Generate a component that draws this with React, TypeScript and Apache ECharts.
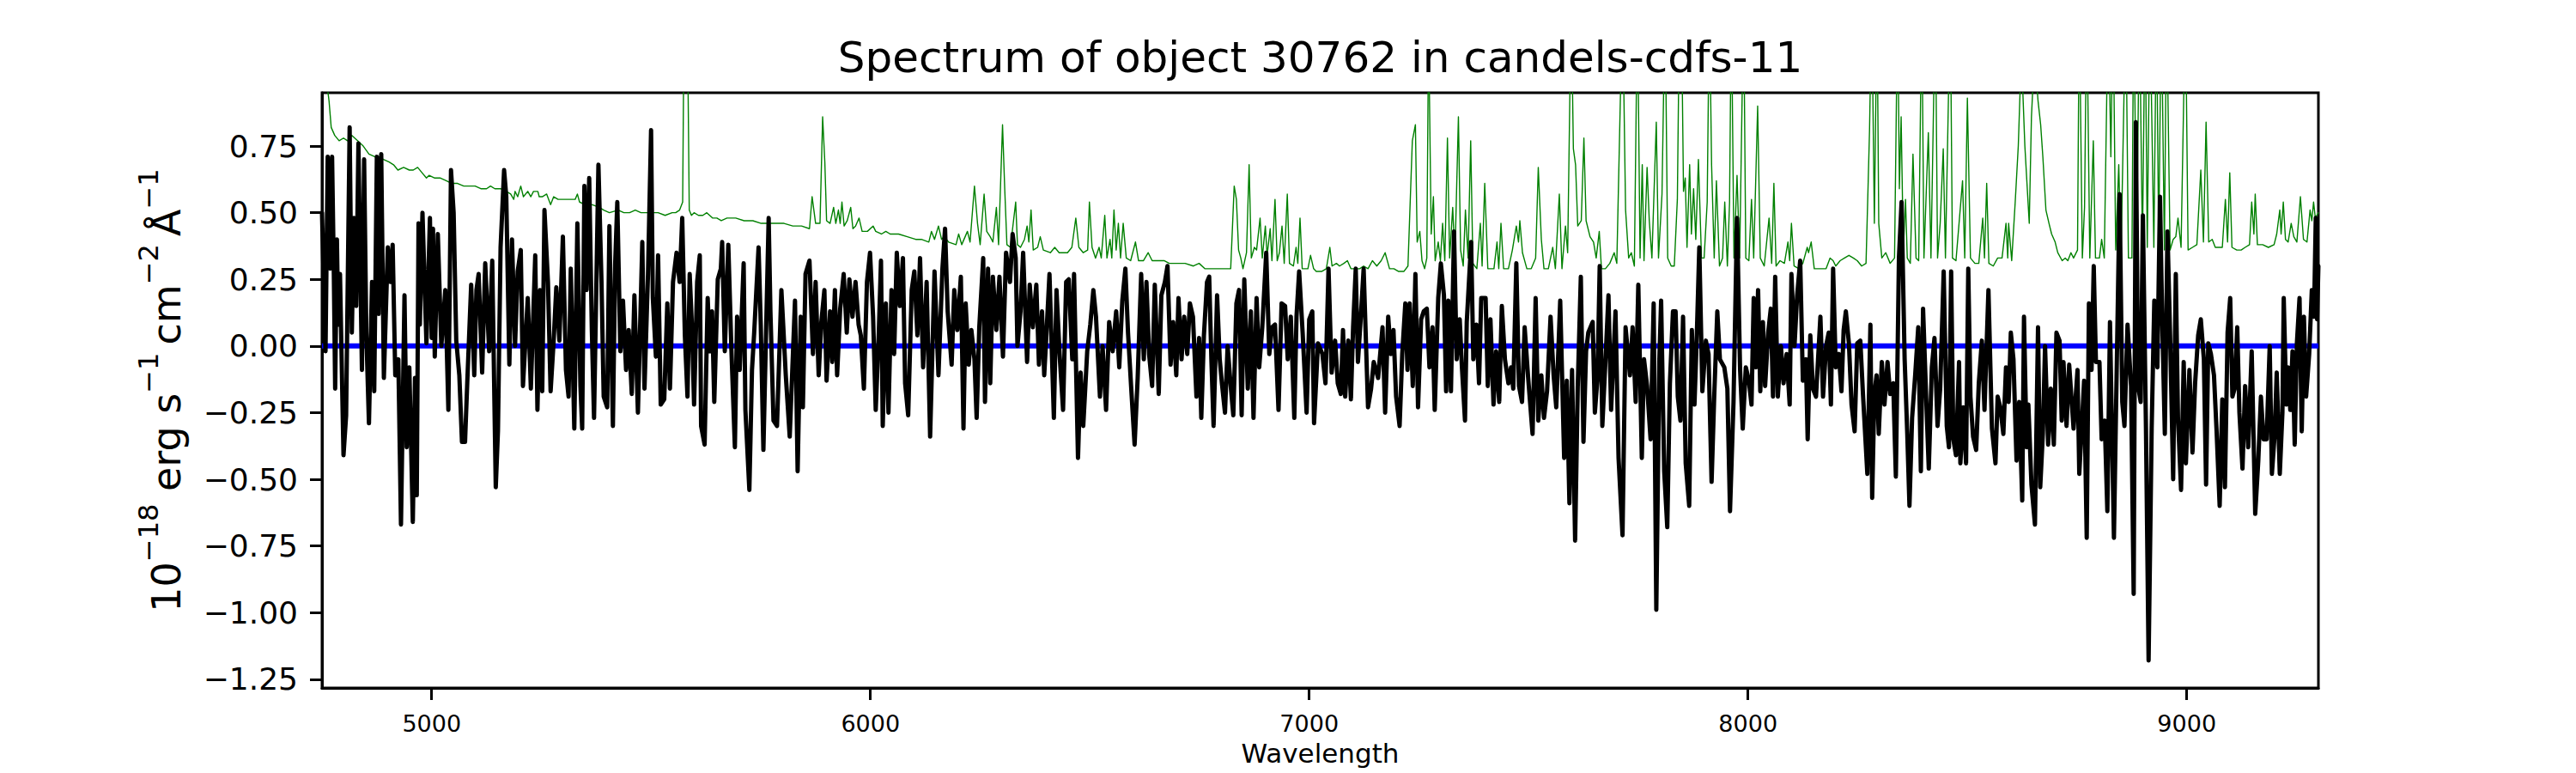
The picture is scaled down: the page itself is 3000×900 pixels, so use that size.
import React, { useEffect, useRef } from "react";
import * as echarts from "echarts";

const FONT = "DejaVu Sans";
const TITLE = "Spectrum of object 30762 in candels-cdfs-11";
const X_NAME = "Wavelength";
const X_MIN = 4750;
const X_MAX = 9300;
const Y_MIN = -1.283;
const Y_MAX = 0.95;
const xTicks = [5000, 6000, 7000, 8000, 9000];
const yTicks = [-1.25, -1.0, -0.75, -0.5, -0.25, 0, 0.25, 0.5, 0.75];

// Black: flux spectrum [wavelength, flux]
const black1 = [[4750,0.50],[4758,-0.02],[4763,0.71],[4769,0.29],[4773,0.71],[4777,0.27],[4780,-0.16],[4784,0.40],[4787,0.08],[4791,0.27],[4799,-0.41],[4805,-0.26],[4813,0.82],[4818,0.05],[4823,0.48],[4828,0.15],[4833,0.76],[4841,-0.09],[4846,0.70],[4851,0.05],[4857,-0.29],[4864,0.24],[4869,-0.17],[4875,0.71],[4879,0.12],[4885,0.72],[4891,-0.12],[4900,0.37],[4906,0.24],[4911,0.38],[4917,-0.11],[4924,-0.05],[4930,-0.67],[4938,0.19],[4943,-0.38],[4949,-0.08],[4957,-0.66],[4962,-0.12],[4966,-0.56],[4970,0.46],[4973,0.08],[4979,0.50],[4988,0.01],[4996,0.48],[5000,0.03],[5003,0.44],[5007,-0.04],[5014,0.42],[5022,0.00],[5031,0.21],[5038,-0.24],[5044,0.66],[5050,0.50],[5056,0.02],[5063,-0.11],[5069,-0.36],[5076,-0.36],[5081,-0.14],[5090,0.23],[5097,-0.11],[5102,0.21],[5107,0.27],[5115,-0.10],[5122,0.31],[5131,-0.02],[5138,0.32],[5146,-0.53],[5151,-0.32],[5157,0.37],[5165,0.66],[5170,0.56],[5177,-0.07],[5183,0.40],[5190,0.00],[5196,0.28],[5203,0.36],[5208,-0.15],[5219,0.18],[5226,-0.16],[5236,0.34],[5241,-0.24],[5247,0.21],[5252,-0.17],[5257,0.51],[5265,0.24],[5271,-0.17],[5278,0.02],[5284,0.22],[5291,0.02],[5299,0.41],[5306,-0.09],[5312,-0.19],[5317,0.29],[5325,-0.31],[5332,0.46],[5339,-0.15],[5343,-0.31],[5348,0.60],[5353,0.21],[5359,0.63],[5365,0.06],[5370,-0.27],[5380,0.68],[5387,0.24],[5392,-0.19],[5400,-0.23],[5405,0.45],[5413,-0.30],[5418,0.30],[5423,0.54],[5430,-0.02],[5436,0.17],[5443,-0.09],[5449,0.06],[5456,-0.18],[5462,0.19],[5470,-0.25],[5480,0.39],[5485,-0.16],[5493,0.27],[5500,0.81],[5504,0.18],[5511,-0.04],[5516,0.34],[5522,-0.22],[5530,-0.20],[5537,0.16],[5543,-0.16],[5550,0.24],[5558,0.35]];
const black2 = [[5565,0.24],[5571,0.48],[5577,0.04],[5583,-0.19],[5588,0.27],[5593,0.08],[5598,-0.22],[5605,0.24],[5611,0.34],[5614,-0.30],[5622,-0.37],[5629,0.18],[5634,-0.02],[5639,0.13],[5644,-0.21],[5652,0.25],[5659,0.29],[5662,0.39],[5668,-0.02],[5676,0.38],[5683,-0.01],[5691,-0.38],[5696,0.11],[5702,-0.09],[5711,0.31],[5715,-0.24],[5724,-0.54],[5730,-0.09],[5735,0.05],[5745,0.37],[5750,0.08],[5756,-0.39],[5768,0.48],[5772,0.13],[5779,-0.28],[5787,-0.30],[5797,0.21],[5807,-0.11],[5816,-0.34],[5828,0.17],[5834,-0.47],[5841,0.11],[5846,-0.23],[5852,0.27],[5861,0.32],[5869,-0.03],[5875,0.24],[5882,-0.11],[5888,0.09],[5895,0.21],[5900,-0.13],[5908,0.13],[5913,-0.06],[5919,0.21],[5924,-0.11],[5931,0.14],[5939,0.27],[5946,0.05],[5952,0.25],[5959,0.11],[5966,0.24],[5973,0.08],[5978,0.04],[5985,-0.16],[5992,0.24],[5999,0.35],[6006,0.11],[6012,-0.24],[6019,0.05],[6024,0.32],[6028,-0.30],[6035,0.16],[6041,-0.25],[6048,0.21],[6054,-0.03],[6060,0.35],[6067,0.15],[6074,0.33],[6079,-0.14],[6086,-0.26],[6094,0.21],[6100,0.28],[6107,0.04],[6113,0.33],[6120,-0.08],[6128,0.24],[6136,-0.34],[6146,0.28],[6155,-0.11],[6164,0.29],[6170,0.44],[6176,0.13],[6185,-0.07],[6191,0.21],[6198,0.06],[6206,0.26],[6212,-0.31],[6217,0.16],[6224,-0.07],[6230,0.06],[6237,-0.05],[6242,-0.27],[6248,0.07],[6257,0.33],[6261,-0.21],[6268,0.29],[6273,-0.14],[6279,0.26],[6287,0.06],[6294,0.26],[6302,-0.04]];
const black3 = [[6309,0.35],[6318,0.24],[6324,0.42],[6331,0.33],[6335,0.00],[6342,0.13],[6348,0.35],[6357,-0.06],[6363,0.23],[6370,0.07],[6378,0.23],[6384,-0.07],[6391,0.13],[6396,-0.11],[6400,0.01],[6408,0.27],[6418,-0.27],[6424,0.21],[6431,-0.03],[6439,-0.24],[6446,0.24],[6452,0.25],[6460,-0.05],[6464,0.27],[6473,-0.42],[6479,-0.10],[6485,-0.30],[6494,-0.02],[6501,0.08],[6508,0.21],[6514,0.11],[6523,-0.19],[6529,0.00],[6537,-0.24],[6544,0.09],[6552,-0.02],[6560,0.13],[6567,-0.08],[6574,0.17],[6581,0.29],[6587,0.05],[6594,-0.15],[6602,-0.37],[6609,-0.12],[6617,0.27],[6623,-0.05],[6629,0.24],[6635,-0.03],[6642,-0.15],[6648,0.23],[6657,-0.18],[6663,0.19],[6671,0.24],[6677,0.30],[6684,-0.07],[6690,0.09],[6697,-0.11],[6702,0.18],[6709,-0.05],[6715,0.11],[6722,-0.03],[6728,0.16],[6735,0.11],[6743,-0.19],[6749,0.03],[6754,-0.27],[6760,0.04],[6767,0.24],[6772,0.26],[6777,-0.05],[6782,-0.30],[6790,0.19],[6796,-0.05],[6801,-0.14],[6808,-0.25],[6814,0.00],[6821,-0.15],[6827,-0.26],[6834,0.16],[6840,0.21],[6846,-0.26],[6852,0.25],[6860,-0.16],[6867,0.13],[6873,-0.27],[6880,0.18],[6886,-0.08],[6893,0.07],[6902,0.35],[6909,-0.03],[6915,0.07],[6922,0.08],[6930,-0.24],[6937,0.16],[6945,0.15],[6951,-0.05],[6958,0.11],[6966,-0.27],[6971,0.11],[6977,0.28],[6985,0.05],[6994,-0.25],[7000,0.10],[7007,0.13],[7011,-0.29],[7020,0.01],[7030,-0.03],[7037,-0.14],[7044,0.29],[7051,-0.10],[7059,0.02],[7065,-0.14]];
const black4 = [[7072,-0.18],[7077,0.06],[7082,-0.19],[7089,0.02],[7095,-0.20],[7100,0.07],[7106,0.29],[7111,-0.06],[7118,0.12],[7124,0.29],[7134,-0.23],[7141,-0.16],[7147,-0.06],[7157,-0.12],[7167,0.07],[7173,-0.25],[7180,0.11],[7186,-0.03],[7192,0.06],[7198,-0.19],[7206,-0.30],[7212,-0.03],[7219,0.16],[7224,-0.09],[7229,0.16],[7236,-0.15],[7242,0.27],[7248,-0.23],[7255,0.10],[7261,0.13],[7268,0.14],[7274,-0.08],[7281,0.07],[7286,-0.24],[7294,0.18],[7300,0.31],[7307,0.19],[7312,-0.17],[7317,0.17],[7323,-0.17],[7330,0.43],[7336,-0.05],[7343,0.10],[7348,-0.08],[7355,-0.28],[7359,0.09],[7369,0.39],[7374,-0.05],[7381,0.08],[7387,-0.14],[7392,0.18],[7402,0.18],[7407,-0.15],[7413,0.10],[7420,-0.22],[7426,-0.02],[7433,-0.21],[7439,0.15],[7446,-0.05],[7454,-0.14],[7460,-0.08],[7465,-0.16],[7472,0.31],[7478,-0.15],[7485,-0.21],[7491,0.07],[7499,-0.12],[7509,-0.33],[7516,0.18],[7522,-0.28],[7529,-0.11],[7535,-0.27],[7542,-0.17],[7550,0.11],[7557,-0.11],[7563,-0.23],[7572,0.17],[7581,-0.42],[7587,-0.13],[7593,-0.59],[7599,-0.09],[7606,-0.73],[7612,-0.15],[7619,0.26],[7625,-0.36],[7631,-0.02],[7636,0.05],[7646,0.09],[7651,-0.25],[7657,-0.12],[7662,0.30],[7668,-0.30],[7675,-0.06],[7682,0.19],[7688,-0.24],[7698,0.13],[7705,-0.42],[7714,-0.71],[7721,0.07],[7731,-0.11],[7737,0.07],[7744,-0.21],[7750,0.23],[7758,-0.42],[7763,-0.05],[7770,-0.15],[7778,-0.35],[7785,0.16],[7791,-0.99],[7798,-0.05],[7802,0.17],[7809,-0.47],[7816,-0.68],[7822,-0.14],[7829,0.13]];
const black5 = [[7835,0.13],[7840,-0.19],[7846,-0.28],[7852,0.11],[7858,-0.44],[7866,-0.60],[7872,0.06],[7878,-0.22],[7883,0.02],[7889,0.37],[7896,-0.17],[7904,0.02],[7910,-0.03],[7917,-0.51],[7923,-0.19],[7930,0.13],[7936,-0.05],[7946,-0.08],[7953,-0.16],[7959,-0.62],[7967,-0.21],[7975,0.48],[7982,-0.09],[7988,-0.31],[7995,-0.08],[8002,-0.13],[8008,-0.22],[8013,0.18],[8018,-0.08],[8023,0.21],[8028,-0.17],[8034,0.09],[8039,-0.15],[8046,0.05],[8052,0.14],[8057,-0.19],[8062,0.26],[8068,-0.19],[8075,0.00],[8081,-0.14],[8088,-0.03],[8095,-0.22],[8099,0.27],[8106,0.00],[8112,0.19],[8119,0.32],[8125,-0.13],[8132,-0.05],[8136,-0.35],[8142,0.04],[8148,-0.16],[8155,-0.19],[8165,0.11],[8171,-0.19],[8178,0.00],[8184,0.05],[8189,-0.22],[8194,0.29],[8200,-0.08],[8207,-0.03],[8213,-0.17],[8218,0.06],[8223,0.13],[8230,0.01],[8236,-0.22],[8243,-0.32],[8249,0.01],[8256,0.02],[8262,-0.18],[8272,-0.48],[8279,0.08],[8283,-0.57],[8288,-0.18],[8293,-0.11],[8298,-0.33],[8305,-0.06],[8311,-0.22],[8318,-0.06],[8324,-0.18],[8331,-0.14],[8337,-0.49],[8344,0.33],[8350,0.54],[8357,-0.05],[8363,-0.33],[8368,-0.60],[8374,-0.27],[8381,-0.11],[8388,0.07],[8394,-0.47],[8399,0.14],[8406,-0.19],[8412,-0.46],[8419,-0.08],[8425,0.03],[8432,-0.30],[8438,-0.16],[8446,0.28],[8453,-0.30],[8458,-0.38],[8463,0.28],[8468,-0.35],[8474,-0.41],[8481,-0.06],[8484,-0.44],[8491,-0.23],[8497,-0.44],[8502,0.29],[8507,-0.19],[8513,-0.34],[8520,-0.39],[8526,-0.14],[8533,0.02],[8539,-0.24],[8548,0.21],[8556,-0.31],[8564,-0.44],[8569,-0.19],[8575,-0.23],[8582,-0.33],[8588,-0.08]];
const black6 = [[8594,-0.21],[8599,0.05],[8605,-0.05],[8612,-0.43],[8618,-0.21],[8625,-0.58],[8629,0.11],[8635,-0.38],[8639,-0.22],[8646,-0.52],[8654,-0.67],[8661,0.07],[8666,-0.53],[8672,-0.33],[8677,0.00],[8684,-0.37],[8690,-0.16],[8697,-0.37],[8703,0.05],[8710,0.02],[8715,-0.28],[8719,-0.06],[8726,-0.30],[8732,-0.07],[8742,-0.31],[8751,-0.09],[8755,-0.48],[8762,-0.26],[8766,-0.13],[8772,-0.72],[8777,0.16],[8783,-0.09],[8788,0.30],[8793,-0.06],[8801,-0.06],[8806,-0.35],[8813,-0.28],[8819,-0.62],[8825,0.09],[8834,-0.72],[8840,-0.12],[8847,0.57],[8853,-0.21],[8858,-0.30],[8865,0.08],[8873,-0.15],[8879,-0.93],[8884,0.84],[8889,-0.15],[8895,-0.21],[8900,0.49],[8907,-0.31],[8913,-1.18],[8920,-0.31],[8926,0.17],[8933,-0.08],[8939,0.56],[8944,0.10],[8950,-0.33],[8956,0.43],[8962,0.04],[8969,-0.50],[8975,0.27],[8980,-0.27],[8987,-0.54],[8993,-0.06],[8998,-0.44],[9006,-0.09],[9013,-0.40],[9019,-0.14],[9026,0.04],[9032,0.10],[9039,-0.05],[9044,-0.52],[9049,0.01],[9055,-0.03],[9062,-0.11],[9068,-0.32],[9075,-0.60],[9081,-0.20],[9087,-0.53],[9093,0.05],[9099,0.18],[9104,-0.19],[9109,-0.16],[9115,0.07],[9120,-0.25],[9127,-0.46],[9133,-0.15],[9140,-0.38],[9148,-0.02],[9156,-0.63],[9163,-0.43],[9169,-0.19],[9175,-0.35],[9182,-0.35],[9189,0.00],[9194,-0.48],[9200,-0.34],[9205,-0.10],[9212,-0.48],[9218,-0.25],[9221,0.18],[9227,-0.22],[9231,-0.08],[9236,-0.24],[9241,-0.02],[9246,-0.37],[9251,0.01],[9257,0.18],[9262,-0.32],[9267,0.11],[9272,-0.19],[9279,-0.03],[9285,0.21],[9290,0.11],[9294,0.48],[9297,0.10],[9300,0.30]];

// Green: error / sky spectrum [wavelength, value]
const green1 = [[4750,1.25],[4757,1.02],[4763,0.96],[4766,0.92],[4771,0.82],[4779,0.79],[4789,0.77],[4799,0.78],[4808,0.77],[4818,0.79],[4831,0.77],[4844,0.75],[4857,0.72],[4870,0.71],[4880,0.71],[4890,0.70],[4903,0.69],[4913,0.68],[4923,0.66],[4936,0.67],[4949,0.66],[4958,0.66],[4968,0.67],[4978,0.65],[4988,0.63],[4994,0.64],[5007,0.63],[5020,0.63],[5033,0.62],[5046,0.61],[5059,0.61],[5073,0.60],[5086,0.60],[5099,0.60],[5112,0.59],[5125,0.59],[5134,0.60],[5144,0.59],[5157,0.59],[5170,0.58],[5180,0.57],[5187,0.55],[5190,0.58],[5196,0.56],[5203,0.60],[5209,0.56],[5219,0.58],[5226,0.56],[5232,0.58],[5242,0.58],[5245,0.56],[5252,0.56],[5262,0.57],[5271,0.53],[5278,0.56],[5288,0.55],[5301,0.55],[5314,0.55],[5327,0.55],[5332,0.57],[5337,0.54],[5350,0.53],[5366,0.53],[5382,0.52],[5392,0.51],[5405,0.50],[5425,0.51],[5438,0.50],[5451,0.50],[5464,0.51],[5477,0.50],[5496,0.50],[5516,0.50],[5532,0.49],[5548,0.50]];
const green2 = [[5556,0.50],[5565,0.51],[5572,0.54],[5575,1.2],[5578,1.5],[5583,1.2],[5587,0.51],[5592,0.49],[5598,0.50],[5608,0.49],[5618,0.49],[5627,0.50],[5640,0.48],[5650,0.48],[5660,0.47],[5673,0.48],[5693,0.48],[5712,0.47],[5732,0.47],[5751,0.46],[5768,0.46],[5784,0.46],[5803,0.46],[5823,0.45],[5843,0.45],[5861,0.44],[5867,0.56],[5875,0.46],[5885,0.46],[5891,0.86],[5896,0.69],[5900,0.47],[5908,0.46],[5916,0.52],[5921,0.46],[5927,0.51],[5931,0.46],[5935,0.54],[5940,0.45],[5947,0.47],[5955,0.52],[5960,0.44],[5966,0.45],[5974,0.48],[5981,0.43],[5993,0.43],[6006,0.45],[6012,0.43],[6025,0.42],[6035,0.43],[6045,0.42],[6064,0.42],[6084,0.41],[6103,0.40],[6116,0.40],[6133,0.39],[6139,0.43],[6146,0.40],[6155,0.45],[6162,0.40],[6168,0.41],[6178,0.39],[6195,0.38],[6201,0.42],[6208,0.38],[6221,0.43],[6227,0.39],[6237,0.60],[6244,0.46],[6250,0.38],[6259,0.57],[6265,0.43],[6273,0.41],[6279,0.39],[6287,0.52],[6292,0.38],[6301,0.83]];
const green3 = [[6306,0.59],[6311,0.38],[6319,0.37],[6331,0.54],[6335,0.38],[6342,0.37],[6351,0.40],[6357,0.45],[6361,0.39],[6366,0.51],[6371,0.36],[6381,0.37],[6387,0.41],[6394,0.36],[6410,0.35],[6420,0.37],[6430,0.35],[6449,0.35],[6459,0.37],[6468,0.48],[6475,0.37],[6485,0.35],[6495,0.36],[6499,0.54],[6505,0.37],[6513,0.33],[6521,0.37],[6526,0.33],[6534,0.49],[6539,0.33],[6546,0.40],[6550,0.33],[6555,0.51],[6560,0.36],[6565,0.46],[6570,0.33],[6576,0.46],[6583,0.33],[6593,0.32],[6604,0.39],[6611,0.32],[6622,0.32],[6633,0.35],[6642,0.32],[6658,0.32],[6670,0.32],[6681,0.31],[6697,0.31],[6717,0.31],[6736,0.30],[6749,0.31],[6762,0.29],[6782,0.29],[6801,0.29],[6821,0.29],[6829,0.60],[6834,0.55],[6839,0.36],[6844,0.33],[6849,0.29],[6857,0.35],[6863,0.68],[6868,0.33],[6875,0.37],[6880,0.36],[6888,0.48],[6893,0.33],[6900,0.45],[6904,0.34],[6911,0.44],[6915,0.32],[6922,0.55],[6927,0.32],[6932,0.35],[6938,0.45],[6943,0.31],[6950,0.57],[6955,0.31],[6964,0.30],[6970,0.37],[6974,0.31],[6979,0.48],[6984,0.29],[6997,0.29],[7003,0.34],[7010,0.29],[7016,0.28],[7029,0.28],[7039,0.29],[7047,0.37],[7052,0.30],[7062,0.31]];
const green4 = [[7069,0.30],[7079,0.31],[7087,0.32],[7095,0.29],[7105,0.29],[7115,0.29],[7124,0.30],[7134,0.29],[7144,0.32],[7154,0.30],[7164,0.32],[7173,0.35],[7183,0.29],[7193,0.29],[7203,0.28],[7216,0.28],[7225,0.30],[7235,0.77],[7242,0.83],[7246,0.39],[7252,0.43],[7257,0.32],[7263,0.29],[7268,0.33],[7272,1.2],[7278,0.42],[7283,0.56],[7287,0.32],[7294,0.39],[7299,0.32],[7304,0.46],[7309,0.32],[7315,0.78],[7320,0.33],[7327,0.52],[7332,0.33],[7340,0.86],[7345,0.36],[7351,0.30],[7356,0.51],[7362,0.33],[7368,0.77],[7373,0.31],[7382,0.29],[7390,0.46],[7394,0.30],[7400,0.61],[7407,0.29],[7415,0.29],[7421,0.29],[7428,0.39],[7432,0.29],[7437,0.46],[7443,0.29],[7454,0.29],[7463,0.36],[7472,0.45],[7477,0.39],[7480,0.47],[7486,0.35],[7496,0.29],[7506,0.29],[7516,0.33],[7522,0.67],[7529,0.40],[7535,0.29],[7545,0.29],[7555,0.37],[7561,0.29],[7570,0.57],[7576,0.29],[7584,0.45],[7589,0.35],[7597,1.3],[7602,0.74],[7607,0.68],[7612,0.45],[7620,0.47],[7626,0.78],[7631,0.47],[7640,0.41],[7648,0.39],[7654,0.33],[7661,0.43],[7666,0.29],[7675,0.29],[7685,0.31],[7695,0.35],[7701,0.31],[7714,1.3],[7721,0.51],[7728,0.33],[7734,0.35],[7741,0.30],[7748,1.3],[7754,0.33],[7759,0.68],[7763,0.32],[7770,0.67],[7775,0.47],[7781,0.33],[7791,0.84],[7796,0.33],[7804,0.57],[7811,1.3],[7817,0.33],[7825,0.30]];
const green5 = [[7832,0.30],[7839,0.55],[7844,1.3],[7848,1.3],[7853,0.58],[7857,0.63],[7861,0.37],[7867,0.68],[7871,0.42],[7876,0.59],[7881,0.40],[7887,0.70],[7894,0.33],[7900,0.33],[7907,0.54],[7912,1.3],[7917,0.68],[7923,0.33],[7928,0.62],[7935,0.30],[7942,0.33],[7947,0.54],[7953,0.30],[7958,0.54],[7962,1.3],[7968,0.33],[7975,0.64],[7981,0.33],[7990,1.3],[7995,0.33],[8002,0.32],[8008,0.55],[8013,0.33],[8022,0.90],[8028,0.33],[8037,0.30],[8048,0.48],[8054,0.31],[8059,0.61],[8064,0.30],[8073,0.32],[8083,0.31],[8091,0.39],[8095,0.32],[8099,0.46],[8105,0.30],[8116,0.29],[8125,0.31],[8135,0.37],[8138,0.35],[8144,0.39],[8151,0.29],[8165,0.29],[8178,0.29],[8187,0.33],[8194,0.32],[8200,0.30],[8210,0.32],[8220,0.33],[8230,0.34],[8240,0.33],[8249,0.32],[8259,0.30],[8269,0.31],[8274,0.62],[8277,0.81],[8282,1.3],[8288,0.46],[8294,1.3],[8298,0.46],[8305,0.33],[8314,0.35],[8324,0.31],[8334,0.33],[8341,1.3],[8345,0.59],[8349,0.86],[8354,0.36],[8359,0.55],[8363,0.33],[8370,0.31],[8376,0.72],[8383,0.33],[8389,0.32],[8396,1.3],[8401,0.33],[8411,0.80],[8417,0.33],[8427,1.3],[8432,0.33],[8438,0.46],[8445,0.74],[8450,0.33],[8461,1.3],[8466,0.33],[8474,0.32],[8489,0.62],[8494,0.33],[8500,0.93],[8507,0.33],[8517,0.31],[8526,0.31],[8535,0.48],[8539,0.33],[8544,0.61],[8549,0.31],[8559,0.30],[8569,0.33],[8579,0.33],[8588,0.46]];
const green6 = [[8592,0.33],[8594,0.46],[8601,0.32],[8609,0.54],[8616,0.75],[8623,1.1],[8631,0.75],[8641,0.46],[8646,0.86],[8653,1.1],[8661,0.92],[8667,0.83],[8672,0.71],[8679,0.51],[8686,0.46],[8692,0.42],[8700,0.39],[8706,0.35],[8716,0.32],[8723,0.33],[8729,0.32],[8736,0.35],[8742,0.33],[8751,0.36],[8755,1.3],[8762,0.33],[8767,0.52],[8772,1.3],[8779,0.33],[8787,0.77],[8792,0.33],[8801,0.33],[8806,0.40],[8812,0.33],[8821,1.3],[8827,0.71],[8832,1.3],[8838,0.36],[8845,0.68],[8850,0.33],[8861,1.3],[8867,0.33],[8875,0.33],[8879,1.3],[8886,0.36],[8892,1.3],[8899,0.37],[8905,1.3],[8910,0.37],[8916,1.3],[8925,0.37],[8931,1.3],[8936,0.37],[8942,1.3],[8949,0.36],[8954,1.3],[8962,0.36],[8969,0.40],[8975,0.41],[8980,0.48],[8987,0.37],[8997,1.3],[9003,0.36],[9013,0.37],[9023,0.38],[9032,0.66],[9038,0.39],[9044,0.84],[9050,0.39],[9058,0.40],[9065,0.37],[9075,0.37],[9081,0.37],[9088,0.55],[9093,0.39],[9098,0.65],[9103,0.37],[9114,0.36],[9124,0.36],[9133,0.37],[9143,0.38],[9148,0.54],[9153,0.42],[9156,0.57],[9161,0.38],[9173,0.38],[9186,0.37],[9199,0.38],[9205,0.42],[9212,0.51],[9215,0.42],[9220,0.54],[9225,0.40],[9231,0.39],[9238,0.46],[9244,0.41],[9251,0.39],[9259,0.56],[9266,0.40],[9274,0.39],[9281,0.51],[9285,0.47],[9289,0.54],[9293,0.48],[9300,0.50]];

// Blue: zero level
const zeroLevel = 0;

const W = 3000;
const H = 900;
const GRID = { left: 375, right: 300, top: 108, bottom: 99 };

function fmtY(v: number): string {
  const s = Math.abs(v).toFixed(2);
  return v < -1e-9 ? "\u2212" + s : s;
}

export default function App() {
  const ref = useRef<HTMLDivElement>(null);

  useEffect(() => {
    document.body.style.margin = "0";
    if (!ref.current) return;
    const chart = echarts.init(ref.current, null, { renderer: "svg" });
    const blackData = [...black1, ...black2, ...black3, ...black4, ...black5, ...black6];
    const greenData = [...green1, ...green2, ...green3, ...green4, ...green5, ...green6];
    const plotLeft = GRID.left;
    const plotRight = W - GRID.right;
    const cx = (plotLeft + plotRight) / 2;

    chart.setOption({
      animation: false,
      backgroundColor: "#ffffff",
      grid: {
        left: GRID.left,
        right: GRID.right,
        top: GRID.top,
        bottom: GRID.bottom,
        show: true,
        borderColor: "#000000",
        borderWidth: 3,
        backgroundColor: "transparent",
        containLabel: false,
      },
      graphic: [
        {
          type: "text",
          x: cx,
          y: 67,
          style: {
            text: TITLE,
            fontFamily: FONT,
            fontSize: 50,
            fill: "#000000",
            align: "center",
            verticalAlign: "middle",
          },
        },
      ],
      xAxis: {
        type: "value",
        min: X_MIN,
        max: X_MAX,
        name: X_NAME,
        nameLocation: "middle",
        nameGap: 60,
        nameTextStyle: { fontFamily: FONT, fontSize: 31, color: "#000000" },
        axisLine: { show: true, onZero: false, lineStyle: { color: "#000000", width: 3 } },
        axisTick: {
          show: true,
          inside: false,
          length: 14,
          customValues: xTicks,
          lineStyle: { color: "#000000", width: 3 },
        },
        axisLabel: {
          customValues: xTicks,
          formatter: (v: number) => String(v),
          fontFamily: FONT,
          fontSize: 27,
          color: "#000000",
          margin: 28,
        },
        splitLine: { show: false },
      },
      yAxis: {
        type: "value",
        min: Y_MIN,
        max: Y_MAX,
        name:
          "{b|10}{s|\u221218}{b| erg s}{s|\u22121}{b|\u2009cm}{s|\u22122}{b|\u2009\u00C5}{s|\u22121}",
        nameLocation: "middle",
        nameRotate: 90,
        nameGap: 158,
        nameTextStyle: {
          fontFamily: FONT,
          color: "#000000",
          rich: {
            b: { fontFamily: FONT, fontSize: 46, lineHeight: 60, verticalAlign: "bottom", color: "#000000" },
            s: { fontFamily: FONT, fontSize: 32, lineHeight: 32, verticalAlign: "top", color: "#000000" },
          },
        },
        axisLine: { show: true, lineStyle: { color: "#000000", width: 3 } },
        axisTick: {
          show: true,
          inside: false,
          length: 14,
          customValues: yTicks,
          lineStyle: { color: "#000000", width: 3 },
        },
        axisLabel: {
          customValues: yTicks,
          formatter: (v: number) => fmtY(v),
          fontFamily: FONT,
          fontSize: 36,
          color: "#000000",
          margin: 28,
        },
        splitLine: { show: false },
      },
      series: [
        {
          name: "error",
          type: "line",
          data: greenData,
          showSymbol: false,
          symbol: "none",
          clip: true,
          lineStyle: { color: "#008000", width: 1.4, join: "round", cap: "round" },
          silent: true,
          z: 2,
        },
        {
          name: "zero",
          type: "line",
          data: [
            [X_MIN, zeroLevel],
            [X_MAX, zeroLevel],
          ],
          showSymbol: false,
          symbol: "none",
          clip: true,
          lineStyle: { color: "#0000ff", width: 6 },
          silent: true,
          z: 3,
        },
        {
          name: "flux",
          type: "line",
          data: blackData,
          showSymbol: false,
          symbol: "none",
          clip: true,
          lineStyle: { color: "#000000", width: 5, join: "round", cap: "round" },
          silent: true,
          z: 4,
        },
      ],
    });

    return () => {
      chart.dispose();
    };
  }, []);

  return <div ref={ref} style={{ width: W, height: H }} />;
}
